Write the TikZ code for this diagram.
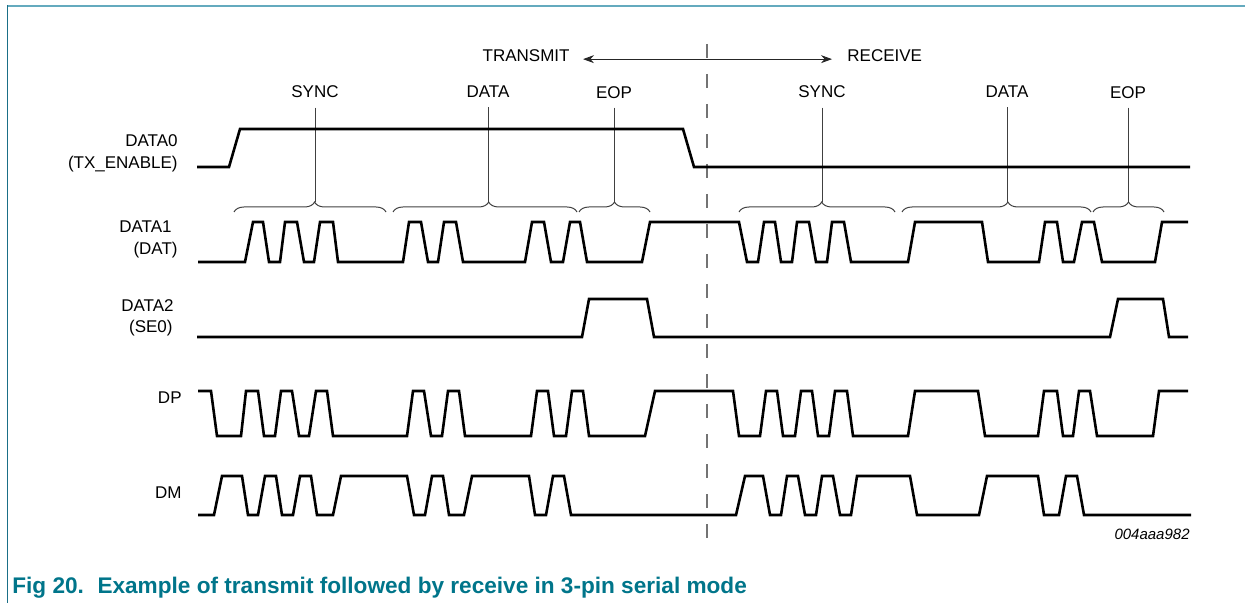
\documentclass[tikz,border=0pt]{standalone}
\usepackage{fontspec}
\setmainfont{Liberation Sans}
\usetikzlibrary{decorations.pathreplacing,arrows.meta}
\definecolor{figteal}{RGB}{0,117,138}
\definecolor{rulelight}{RGB}{100,170,190}
\definecolor{ruledark}{RGB}{26,111,135}

\begin{document}
\begin{tikzpicture}[x=0.5pt,y=-0.5pt,
  wave/.style={line width=1.3pt,line join=miter},
  lbl/.style={inner sep=0pt,font=\fontsize{8.5}{11}\selectfont},
  tick/.style={line width=0.5pt,black!75},
  bracket/.style={line width=0.5pt,black!75,decorate,decoration={brace,amplitude=5pt,aspect=#1}},
  bracket/.default=0.5,
  split/.style={black!55,line width=0.7pt,dash pattern=on 7pt off 8pt}]
\useasboundingbox (0,0) rectangle (1245,603);

% frame
\draw[rulelight,line width=1pt] (7,6) -- (1245,6);
\draw[ruledark,line width=0.8pt] (7.5,5.5) -- (7.5,603);

% transmit / receive
\draw (570,62) node[lbl,anchor=base east] (transmit) {TRANSMIT};
\draw (847,62) node[lbl,anchor=base west] (receive) {RECEIVE};
\draw[line width=0.5pt,black!85,{Stealth[length=5.5pt,width=4pt]}-{Stealth[length=5.5pt,width=4pt]}] ([xshift=6.5pt,yshift=-1.5pt]transmit.east) -- ([xshift=-7.5pt,yshift=-1.5pt]receive.west);
\draw[split] (707,44) -- (707,542);

% phases
\draw (315,98) node[lbl,anchor=base] (sync1) {SYNC};
\draw (488,98) node[lbl,anchor=base] (data1) {DATA};
\draw (614,99) node[lbl,anchor=base] (eop1) {EOP};
\draw (822,98) node[lbl,anchor=base] (sync2) {SYNC};
\draw (1007,98) node[lbl,anchor=base] (data2) {DATA};
\draw (1128,99) node[lbl,anchor=base] (eop2) {EOP};

\draw[bracket=0.53] (234,212) -- (386,212);
\draw[bracket=0.52] (393,212) -- (577,212);
\draw[bracket] (579,212) -- (650,212);
\draw[bracket=0.53] (739,212) -- (895,212);
\draw[bracket=0.56] (902,212) -- (1091,212);
\draw[bracket] (1093,212) -- (1164,212);
\coordinate (tip1) at (315,202);
\coordinate (tip2) at (488,202);
\coordinate (tip3) at (614,202);
\coordinate (tip4) at (822,202);
\coordinate (tip5) at (1007,202);
\coordinate (tip6) at (1128,202);
\draw[tick] (sync1.south) ++(0,9) -- (tip1);
\draw[tick] (data1.south) ++(0,9) -- (tip2);
\draw[tick] (eop1.south) ++(0,8) -- (tip3);
\draw[tick] (sync2.south) ++(0,9) -- (tip4);
\draw[tick] (data2.south) ++(0,9) -- (tip5);
\draw[tick] (eop2.south) ++(0,8) -- (tip6);

% signal names
\draw (178,147) node[lbl,anchor=base east] (d0) {DATA0};
\draw (178,169) node[lbl,anchor=base east] (d0b) {(TX\_ENABLE)};
\draw (172,233) node[lbl,anchor=base east] (d1) {DATA1};
\draw (178,255) node[lbl,anchor=base east] (d1b) {(DAT)};
\draw (174,312) node[lbl,anchor=base east] (d2) {DATA2};
\draw (173,333) node[lbl,anchor=base east] (d2b) {(SE0)};
\draw (182,403) node[lbl,anchor=base east] (dp) {DP};
\draw (182,498) node[lbl,anchor=base east] (dm) {DM};

% DATA0
\draw[wave] (197,167) -- (229,167) -- (240,129) -- (683,129) -- (694,167) -- (1190,167);
% DATA1
\draw[wave] (198,262) -- (245,262) -- (253,222) -- (263,222) -- (269,262) -- (280,262) -- (285,222) -- (297,222) -- (304,262) -- (314,262) -- (320,222) -- (333,222) -- (338,262) -- (403,262) -- (409,222) -- (421,222) -- (428,262) -- (438,262) -- (444,222) -- (456,222) -- (463,262) -- (525,262) -- (532,222) -- (544,222) -- (551,262) -- (563,262) -- (570,222) -- (580,222) -- (587,262) -- (642,262) -- (650,222) -- (739,222) -- (747,262) -- (758,262) -- (764,222) -- (775,222) -- (781,262) -- (792,262) -- (797,222) -- (809,222) -- (816,262) -- (827,262) -- (832,222) -- (844,222) -- (851,262) -- (908,262) -- (915,222) -- (982,222) -- (988,262) -- (1039,262) -- (1045,222) -- (1057,222) -- (1063,262) -- (1074,262) -- (1082,222) -- (1094,222) -- (1102,262) -- (1155,262) -- (1162,222) -- (1188,222);
% DATA2
\draw[wave] (197,337) -- (582,337) -- (589,299) -- (647,299) -- (654,337) -- (1110,337) -- (1118,299) -- (1163,299) -- (1169,337) -- (1188,337);
% DP
\draw[wave] (198,391) -- (211,391) -- (217,436) -- (241,436) -- (246,391) -- (258,391) -- (264,436) -- (275,436) -- (281,391) -- (292,391) -- (299,436) -- (309,436) -- (316,391) -- (327,391) -- (333,436) -- (407,436) -- (413,391) -- (424,391) -- (431,436) -- (442,436) -- (448,391) -- (459,391) -- (465,436) -- (531,436) -- (537,391) -- (548,391) -- (554,436) -- (566,436) -- (572,391) -- (583,391) -- (589,436) -- (645,436) -- (655,391) -- (733,391) -- (739,436) -- (760,436) -- (766,391) -- (777,391) -- (783,436) -- (795,436) -- (801,391) -- (812,391) -- (818,436) -- (829,436) -- (835,391) -- (847,391) -- (853,436) -- (908,436) -- (915,391) -- (978,391) -- (985,436) -- (1038,436) -- (1044,391) -- (1057,391) -- (1063,436) -- (1073,436) -- (1079,391) -- (1090,391) -- (1097,436) -- (1153,436) -- (1159,391) -- (1188,391);
% DM
\draw[wave] (198,515) -- (214,515) -- (222,476) -- (242,476) -- (248,515) -- (258,515) -- (265,476) -- (276,476) -- (282,515) -- (293,515) -- (300,476) -- (311,476) -- (317,515) -- (333,515) -- (341,476) -- (407,476) -- (414,515) -- (425,515) -- (432,476) -- (443,476) -- (449,515) -- (464,515) -- (472,476) -- (529,476) -- (535,515) -- (546,515) -- (553,476) -- (564,476) -- (571,515) -- (736,515) -- (745,476) -- (763,476) -- (770,515) -- (781,515) -- (787,476) -- (798,476) -- (805,515) -- (816,515) -- (822,476) -- (833,476) -- (840,515) -- (851,515) -- (857,476) -- (910,476) -- (917,515) -- (979,515) -- (987,476) -- (1038,476) -- (1044,515) -- (1059,515) -- (1066,476) -- (1077,476) -- (1084,515) -- (1191,515);

% figure code and caption
\draw (1190,539) node[lbl,anchor=base east,font=\fontsize{7.5}{9}\selectfont\itshape] (figcode) {004aaa982};
\draw (12,593) node[anchor=base west,inner sep=0pt,font=\fontsize{11.3}{13}\selectfont\bfseries,text=figteal] (caption) {Fig 20.\hspace{0.6em}Example of transmit followed by receive in 3-pin serial mode};
\end{tikzpicture}
\end{document}
